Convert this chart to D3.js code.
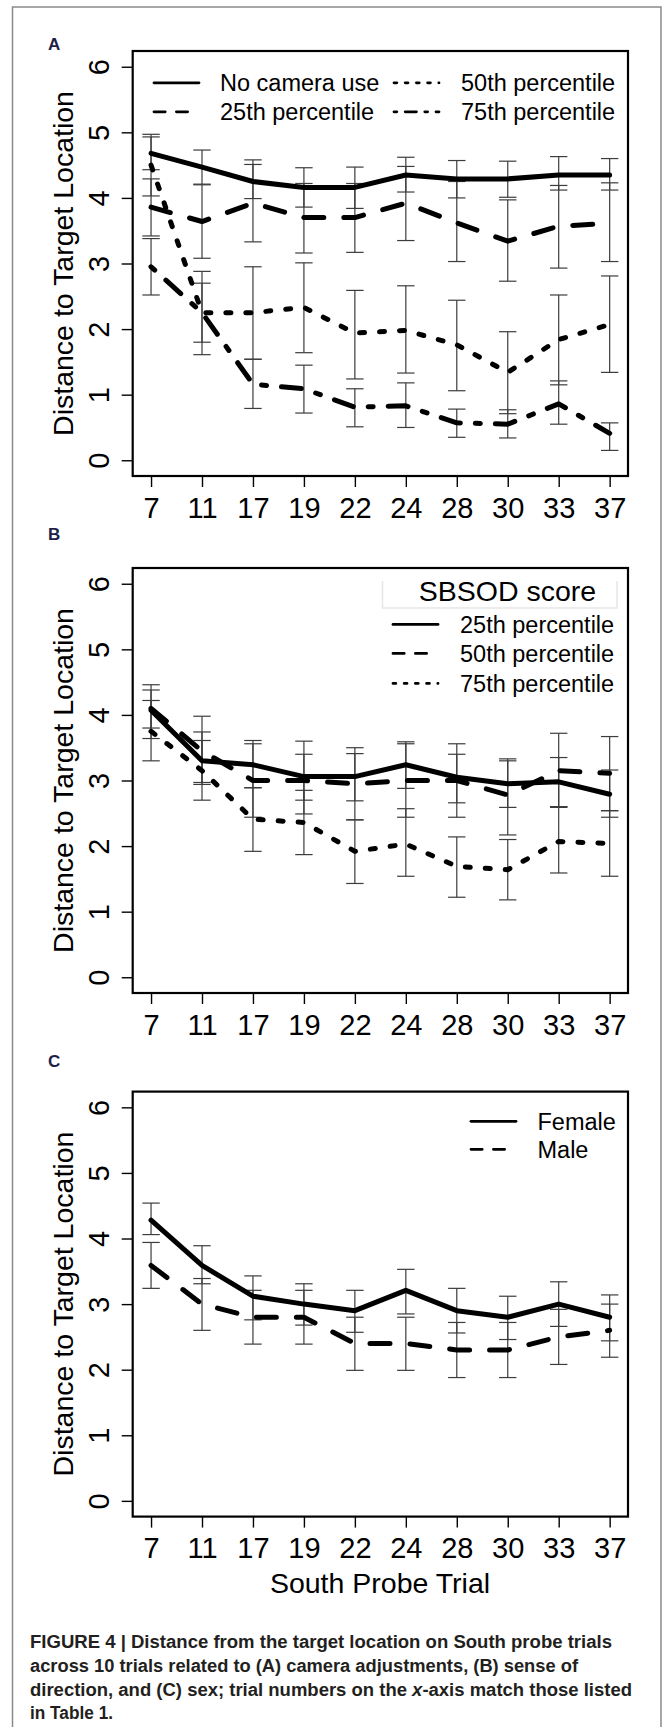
<!DOCTYPE html>
<html>
<head>
<meta charset="utf-8">
<script src="https://d3js.org/d3.v7.min.js"></script>
<style>
  body { margin: 0; background: #fff; }
  svg { display: block; }
</style>
</head>
<body>
<script>
// trial numbers on the x axis
const trials = [7, 11, 17, 19, 22, 24, 28, 30, 33, 37];
const yTicks = [0, 1, 2, 3, 4, 5, 6];

// (A) camera adjustments
const aNoCamera   = [4.68, 4.47, 4.25, 4.16, 4.16, 4.35, 4.29, 4.29, 4.35, 4.35];
const aNoCameraLo = [4.43, 4.21, 3.99, 3.86, 3.84, 4.09, 4.00, 4.01, 4.12, 4.12];
const aNoCameraHi = [4.93, 4.73, 4.51, 4.46, 4.47, 4.62, 4.57, 4.56, 4.63, 4.60];
const aP25   = [3.86, 3.64, 3.92, 3.70, 3.70, 3.92, 3.62, 3.34, 3.57, 3.61];
const aP25Lo = [3.42, 3.08, 3.33, 3.16, 3.17, 3.35, 3.03, 2.73, 2.93, 3.03];
const aP25Hi = [4.29, 4.20, 4.58, 4.22, 4.22, 4.48, 4.25, 3.97, 4.19, 4.23];
const aP50   = [4.50, 2.25, 2.25, 2.33, 1.94, 1.98, 1.76, 1.34, 1.84, 2.07];
const aP50Lo = [4.03, 1.61, 1.54, 1.64, 1.24, 1.33, 1.06, 0.71, 1.15, 1.34];
const aP50Hi = [4.97, 2.88, 2.95, 3.01, 2.59, 2.66, 2.44, 1.96, 2.52, 2.81];
const aP75   = [2.95, 2.25, 1.16, 1.09, 0.81, 0.83, 0.57, 0.55, 0.86, 0.41];
const aP75Lo = [2.52, 1.80, 0.79, 0.72, 0.51, 0.50, 0.35, 0.34, 0.55, 0.15];
const aP75Hi = [3.38, 2.70, 1.54, 1.45, 1.09, 1.18, 0.78, 0.77, 1.21, 0.57];

// (B) SBSOD score
const bP25   = [4.07, 3.30, 3.24, 3.06, 3.06, 3.24, 3.05, 2.95, 2.98, 2.79];
const bP25Lo = [3.64, 2.97, 2.89, 2.70, 2.69, 2.88, 2.66, 2.59, 2.60, 2.44];
const bP25Hi = [4.46, 3.61, 3.61, 3.40, 3.41, 3.59, 3.40, 3.30, 3.35, 3.16];
const bP50   = [4.10, 3.45, 3.00, 3.00, 2.95, 3.00, 3.00, 2.78, 3.15, 3.11];
const bP50Lo = [3.80, 2.94, 2.44, 2.49, 2.40, 2.44, 2.44, 2.17, 2.59, 2.54];
const bP50Hi = [4.38, 3.98, 3.56, 3.60, 3.50, 3.56, 3.56, 3.33, 3.72, 3.67];
const bP75   = [3.75, 3.15, 2.41, 2.36, 1.92, 2.03, 1.69, 1.64, 2.07, 2.04];
const bP75Lo = [3.30, 2.70, 1.92, 1.87, 1.43, 1.54, 1.22, 1.18, 1.59, 1.54];
const bP75Hi = [4.22, 3.74, 2.89, 2.85, 2.40, 2.57, 2.14, 2.10, 2.60, 2.54];

// (C) sex
const cFemale   = [4.28, 3.59, 3.12, 3.00, 2.90, 3.21, 2.90, 2.80, 3.00, 2.80];
const cFemaleLo = [4.06, 3.31, 2.76, 2.68, 2.57, 2.85, 2.56, 2.46, 2.66, 2.44];
const cFemaleHi = [4.54, 3.89, 3.43, 3.31, 3.21, 3.53, 3.24, 3.12, 3.34, 3.14];
const cMale     = [3.59, 3.00, 2.80, 2.80, 2.40, 2.40, 2.30, 2.30, 2.50, 2.60];
const cMaleLo   = [3.24, 2.60, 2.39, 2.39, 1.99, 1.99, 1.88, 1.88, 2.08, 2.19];
const cMaleHi   = [3.94, 3.39, 3.21, 3.21, 2.80, 2.80, 2.72, 2.72, 2.92, 3.00];

const yTitle = 'Distance to Target Location';
const xTitle = 'South Probe Trial';

const captionLines = [
  [['FIGURE 4 | Distance from the target location on South probe trials', false]],
  [['across 10 trials related to (A) camera adjustments, (B) sense of', false]],
  [['direction, and (C) sex; trial numbers on the ', false], ['x', true], ['-axis match those listed', false]],
  [['in Table 1.', false]]
];

const FONT = '"Liberation Sans", Arial, Helvetica, sans-serif';
const LWD = 5, LEG_LWD = 2.8;

var svg = d3.select('body').append('svg')
  .attr('width', 666)
  .attr('height', 1727);

// figure frame (open at the bottom)
svg.append('path')
  .attr('d', 'M12.5,1727 V7 H661 V1727')
  .attr('fill', 'none')
  .attr('stroke', '#8a8a8a')
  .attr('stroke-width', 1.5);

var idx = d3.range(1, 11);
var x = d3.scaleLinear().domain([0.64, 10.36]).range([132.7, 628]);
var PH = 425;

function dash(type, w) {
  if (type == 'dashed') return [4*w, 4*w].join(',');
  if (type == 'dotted') return [w, 3*w].join(',');
  if (type == 'dotdash') return [w, 3*w, 4*w, 3*w].join(',');
  return null;
}

function drawPanel(p) {
  var y = d3.scaleLinear().domain([-0.24, 6.24]).range([p.top + PH, p.top]);
  var g = svg.append('g');

  // error bars (mean +/- se)
  p.series.forEach(function(s) {
    var eb = g.append('g').attr('stroke', '#3c3c3c').attr('stroke-width', 1.2);
    eb.selectAll(null).data(idx).join('line')
      .attr('x1', d => x(d)).attr('x2', d => x(d))
      .attr('y1', d => y(s.lo[d-1])).attr('y2', d => y(s.hi[d-1]));
    [s.lo, s.hi].forEach(function(arr) {
      eb.selectAll(null).data(idx).join('line')
        .attr('x1', d => x(d) - 8.7).attr('x2', d => x(d) + 8.7)
        .attr('y1', d => y(arr[d-1])).attr('y2', d => y(arr[d-1]));
    });
  });

  // mean lines
  var line = d3.line().x((d, k) => x(k + 1)).y(d => y(d));
  p.series.forEach(function(s) {
    g.append('path')
      .datum(s.mean)
      .attr('d', line)
      .attr('fill', 'none')
      .attr('stroke', '#000')
      .attr('stroke-width', LWD)
      .attr('stroke-linecap', 'round')
      .attr('stroke-linejoin', 'round')
      .attr('stroke-dasharray', dash(s.type, LWD));
  });

  // plot box
  g.append('rect')
    .attr('x', x.range()[0]).attr('y', p.top)
    .attr('width', x.range()[1] - x.range()[0]).attr('height', PH)
    .attr('fill', 'none').attr('stroke', '#000').attr('stroke-width', 2.2);

  // x axis
  var xa = g.append('g')
    .attr('transform', 'translate(0,' + (p.top + PH) + ')')
    .call(d3.axisBottom(x).tickValues(idx).tickFormat(d => trials[d-1]).tickSize(11).tickPadding(10));
  // y axis
  var ya = g.append('g')
    .attr('transform', 'translate(' + x.range()[0] + ',0)')
    .call(d3.axisLeft(y).tickValues(yTicks).tickFormat(d3.format('d')).tickSize(11));
  ya.selectAll('.tick text')
    .attr('x', null).attr('dy', '0.35em')
    .attr('text-anchor', 'middle')
    .attr('transform', 'translate(-33.5,0) rotate(-90)');
  [xa, ya].forEach(function(a) {
    a.select('.domain').remove();
    a.attr('font-family', FONT).attr('font-size', 29);
    a.selectAll('.tick line').attr('stroke', '#000').attr('stroke-width', 1.4);
    a.selectAll('.tick text').attr('fill', '#000');
  });

  // y title
  g.append('text')
    .attr('transform', 'translate(63.5,' + (p.top + PH / 2) + ') rotate(-90)')
    .attr('dy', '0.35em')
    .attr('text-anchor', 'middle')
    .attr('font-family', FONT).attr('font-size', 28.5)
    .text(yTitle);

  // panel letter
  svg.append('text')
    .attr('x', 48).attr('y', p.labelY)
    .attr('font-family', FONT).attr('font-weight', 'bold').attr('font-size', 17)
    .attr('fill', '#1e1e48')
    .text(p.label);

  // legend
  var lg = g.append('g');
  p.legend.forEach(function(e) {
    lg.append('line')
      .attr('x1', e.x0).attr('x2', e.x0 + (e.type == 'dashed' ? 36 : 45))
      .attr('y1', p.top + e.dy).attr('y2', p.top + e.dy)
      .attr('stroke', '#000').attr('stroke-width', LEG_LWD)
      .attr('stroke-linecap', 'round')
      .attr('stroke-dasharray', dash(e.type, LEG_LWD));
    lg.append('text')
      .attr('x', e.tx).attr('y', p.top + e.dy).attr('dy', '0.35em')
      .attr('font-family', FONT).attr('font-size', 23.5)
      .text(e.name);
  });
  return g;
}

drawPanel({
  top: 51, label: 'A', labelY: 50,
  series: [
    {mean: aNoCamera, lo: aNoCameraLo, hi: aNoCameraHi, type: 'solid'},
    {mean: aP25, lo: aP25Lo, hi: aP25Hi, type: 'dashed'},
    {mean: aP50, lo: aP50Lo, hi: aP50Hi, type: 'dotted'},
    {mean: aP75, lo: aP75Lo, hi: aP75Hi, type: 'dotdash'}
  ],
  legend: [
    {name: 'No camera use', type: 'solid', x0: 154, tx: 220, dy: 31.8},
    {name: '25th percentile', type: 'dashed', x0: 154, tx: 220, dy: 60.8},
    {name: '50th percentile', type: 'dotted', x0: 394, tx: 461, dy: 31.8},
    {name: '75th percentile', type: 'dotdash', x0: 394, tx: 461, dy: 60.8}
  ]
});

var gB = drawPanel({
  top: 568, label: 'B', labelY: 540,
  series: [
    {mean: bP25, lo: bP25Lo, hi: bP25Hi, type: 'solid'},
    {mean: bP50, lo: bP50Lo, hi: bP50Hi, type: 'dashed'},
    {mean: bP75, lo: bP75Lo, hi: bP75Hi, type: 'dotted'}
  ],
  legend: [
    {name: '25th percentile', type: 'solid', x0: 393, tx: 460, dy: 56.4},
    {name: '50th percentile', type: 'dashed', x0: 393, tx: 460, dy: 85.4},
    {name: '75th percentile', type: 'dotted', x0: 393, tx: 460, dy: 115.4}
  ]
});
// faint box left around the legend title
gB.append('path')
  .attr('d', 'M382.5,581 V608 H617 V581')
  .attr('fill', 'none').attr('stroke', '#e6e6e6').attr('stroke-width', 1.5);
gB.append('text')
  .attr('x', 507.5).attr('y', 591).attr('dy', '0.35em')
  .attr('text-anchor', 'middle')
  .attr('font-family', FONT).attr('font-size', 28.5)
  .text('SBSOD score');

drawPanel({
  top: 1091.6, label: 'C', labelY: 1067,
  series: [
    {mean: cFemale, lo: cFemaleLo, hi: cFemaleHi, type: 'solid'},
    {mean: cMale, lo: cMaleLo, hi: cMaleHi, type: 'dashed'}
  ],
  legend: [
    {name: 'Female', type: 'solid', x0: 471, tx: 537.5, dy: 29.7},
    {name: 'Male', type: 'dashed', x0: 471, tx: 537.5, dy: 57.7}
  ]
});

// x title under panel C
svg.append('text')
  .attr('x', 380).attr('y', 1582.7).attr('dy', '0.35em')
  .attr('text-anchor', 'middle')
  .attr('font-family', FONT).attr('font-size', 28.5)
  .text(xTitle);

// caption
var capBase = [1648.3, 1671.9, 1695.5, 1719.1];
var capWidth = [582, 548, 602, 83];
captionLines.forEach(function(parts, k) {
  var t = svg.append('text')
    .attr('x', 30).attr('y', capBase[k])
    .attr('font-family', FONT).attr('font-weight', 'bold').attr('font-size', 18)
    .attr('fill', '#231f20')
    .attr('textLength', capWidth[k]).attr('lengthAdjust', 'spacingAndGlyphs');
  parts.forEach(function(pt) {
    t.append('tspan').attr('font-style', pt[1] ? 'italic' : null).text(pt[0]);
  });
});
</script>
</body>
</html>
